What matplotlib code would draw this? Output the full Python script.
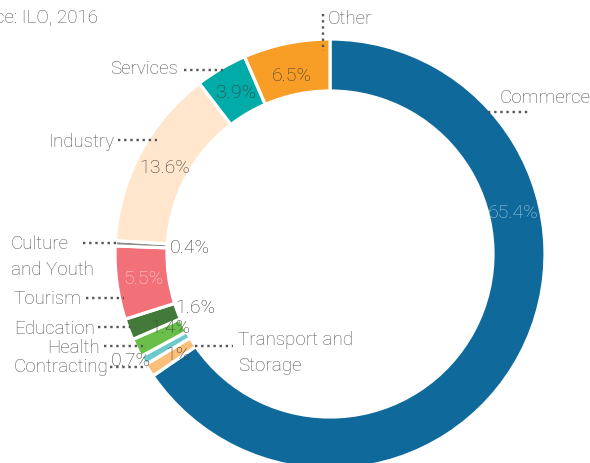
import matplotlib.pyplot as plt

# employment by sector, percent
sectors = ["Commerce", "Transport and\n\nStorage", "Contracting", "Health", "Education",
           "Tourism", "Culture\n\nand Youth", "Industry", "Services", "Other"]
shares = [65.4, 1, 0.7, 1.4, 1.6, 5.5, 0.4, 13.6, 3.9, 6.5]
colors = ["#0f6a9b", "#fbbf7a", "#6cc9cc", "#6abf4b", "#437a3a",
          "#f27078", "#8a8a8a", "#ffe6cc", "#00aba8", "#f89d25"]

W, H = 590, 464
plt.rcParams['font.family'] = ['Roboto', 'DejaVu Sans']
GREY = "#555555"
DARK = "#3f3f3f"

fig = plt.figure(figsize=(W / 100, H / 100), dpi=100)
ax = fig.add_axes([0, 0, 1, 1])

cx, cy = 330, H - 255
ax.pie(shares, colors=colors, startangle=90, counterclock=False,
       radius=215, center=(cx, cy),
       wedgeprops=dict(width=52, edgecolor="white", linewidth=2.3))
ax.set_xlim(0, W)
ax.set_ylim(0, H)
ax.set_aspect("equal")
ax.axis("off")


def P(x, y):
    return x, H - y


# percentage labels (pixel positions, measured from the top)
pct_pos = [(513, 213), (178, 355), (131, 361), (170, 328), (195, 308),
           (143, 279), (190, 248), (165, 168), (236, 93), (292, 76)]
pct_col = ["#a6c9df", DARK, DARK, DARK, DARK,
           "#fbd3d5", DARK, DARK, DARK, DARK]
for v, (x, y), c in zip(shares, pct_pos, pct_col):
    ax.text(*P(x, y), f"{v:g}%", ha="center", va="center", fontsize=14,
            fontweight="light", color=c)

# category names with dotted leaders
dot = dict(color=GREY, lw=1.7, linestyle=(0, (1, 1.6)))
names = [
    # text x, text y, ha, leader start, leader end
    (500, 98, "left", (488, 113), (528, 113)),
    (238, 353, "left", (195, 347), (233, 347)),
    (108, 367, "right", (110, 368), (147, 368)),
    (100, 348, "right", (104, 347), (143, 347)),
    (95, 329, "right", (98, 328), (133, 328)),
    (81, 299, "right", (86, 299), (124, 299)),
    (11, 257, "left", (83, 244), (120, 244)),
    (115, 142, "right", (118, 141), (157, 141)),
    (178, 69, "right", (184, 71), (223, 71)),
    (328, 19, "left", (323, 15), (323, 52)),
]
for name, (tx, ty, ha, p0, p1) in zip(sectors, names):
    ax.text(*P(tx, ty), name, ha=ha, va="center", fontsize=13.5,
            fontweight="light", color=GREY, linespacing=0.64)
    ax.plot([p0[0], p1[0]], [H - p0[1], H - p1[1]], **dot)

ax.text(*P(98, 18), "Source: ILO, 2016", ha="right", va="center",
        fontsize=13.5, fontweight="light", color=GREY)

fig.savefig("out.png", dpi=100)
